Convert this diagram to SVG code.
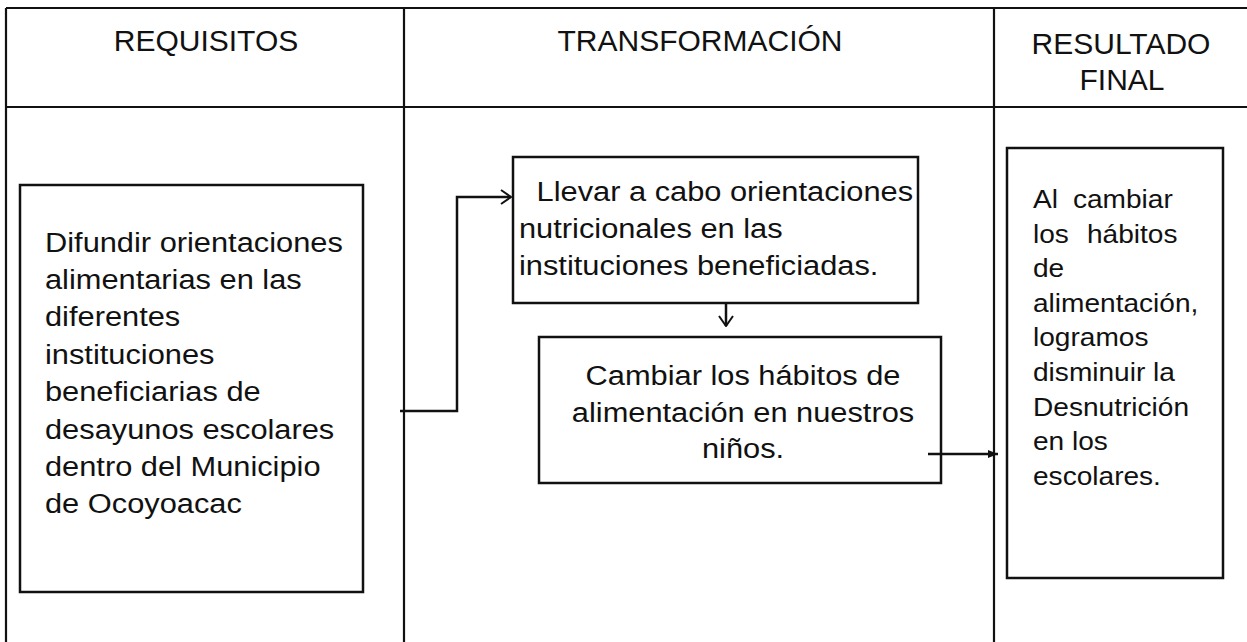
<svg xmlns="http://www.w3.org/2000/svg" width="1247" height="642" viewBox="0 0 1247 642">
<defs>
<style>
.grid{stroke:#111;stroke-width:2.2;fill:none}
.box{stroke:#111;stroke-width:2.5;fill:#fff}
.hdr{font-family:"Liberation Sans",Arial,sans-serif;font-size:30px;fill:#111;text-anchor:middle}
.t1{font-family:"Liberation Sans",Arial,sans-serif;font-size:28px;fill:#111}
.t4{font-family:"Liberation Sans",Arial,sans-serif;font-size:26px;fill:#111}
.conn{stroke:#111;stroke-width:2.5;fill:none}
</style>
<marker id="open" viewBox="0 0 12 16" refX="11" refY="8" markerWidth="12" markerHeight="16" markerUnits="userSpaceOnUse" orient="auto">
<path d="M1,1 L11,8 L1,15" fill="none" stroke="#111" stroke-width="2"/>
</marker>
<marker id="solid" viewBox="0 0 10 10" refX="10" refY="5" markerWidth="10" markerHeight="10" markerUnits="userSpaceOnUse" orient="auto">
<path d="M0,1 L10,5 L0,9 Z" fill="#111"/>
</marker>
</defs>
<rect width="1247" height="642" fill="#fff"/>
<g id="table">
<path class="grid" d="M6,8 H1247 M6,107 H1247 M6,8 V642 M404,8 V642 M994,8 V642"/>
<text class="hdr" x="206" y="51">REQUISITOS</text>
<text class="hdr" x="700" y="51">TRANSFORMACIÓN</text>
<text class="hdr" x="1121" y="54">RESULTADO</text>
<text class="hdr" x="1122" y="90">FINAL</text>
</g>
<g id="node-requisito">
<rect class="box" x="20" y="185" width="343" height="407"/>
<g transform="translate(45,0) scale(1.1,1)">
<text class="t1" x="0" y="252">Difundir orientaciones</text>
<text class="t1" x="0" y="289">alimentarias en las</text>
<text class="t1" x="0" y="326">diferentes</text>
<text class="t1" x="0" y="364">instituciones</text>
<text class="t1" x="0" y="401">beneficiarias de</text>
<text class="t1" x="0" y="439">desayunos escolares</text>
<text class="t1" x="0" y="476">dentro del Municipio</text>
<text class="t1" x="0" y="513">de Ocoyoacac</text>
</g>
</g>
<g id="node-llevar">
<rect class="box" x="513" y="157" width="405" height="146"/>
<g transform="translate(519,0) scale(1.1,1)">
<text class="t1" x="16" y="201">Llevar a cabo orientaciones</text>
<text class="t1" x="0" y="238">nutricionales en las</text>
<text class="t1" x="0" y="275">instituciones beneficiadas.</text>
</g>
</g>
<g id="node-cambiar">
<rect class="box" x="539" y="337" width="402" height="146"/>
<g transform="translate(743,0) scale(1.1,1)">
<text class="t1" x="0" y="385" text-anchor="middle">Cambiar los hábitos de</text>
<text class="t1" x="0" y="422" text-anchor="middle">alimentación en nuestros</text>
<text class="t1" x="0" y="458" text-anchor="middle">niños.</text>
</g>
</g>
<g id="node-resultado">
<rect class="box" x="1007" y="148" width="216" height="430"/>
<g transform="translate(1033,0) scale(1.08,1)">
<text class="t4" y="208"><tspan x="0">Al</tspan><tspan x="37">cambiar</tspan></text>
<text class="t4" y="243"><tspan x="0">los</tspan><tspan x="50">hábitos</tspan></text>
<text class="t4" x="0" y="277">de</text>
<text class="t4" x="0" y="312">alimentación,</text>
<text class="t4" x="0" y="346">logramos</text>
<text class="t4" x="0" y="381">disminuir la</text>
<text class="t4" x="0" y="416">Desnutrición</text>
<text class="t4" x="0" y="450">en los</text>
<text class="t4" x="0" y="485">escolares.</text>
</g>
</g>
<g id="connectors">
<path class="conn" d="M400,411 H457 V197 H511" marker-end="url(#open)"/>
<path class="conn" d="M726,303 V326" marker-end="url(#open)"/>
<path class="conn" stroke-width="2" d="M928,454 H998" marker-end="url(#solid)"/>
</g>
</svg>
